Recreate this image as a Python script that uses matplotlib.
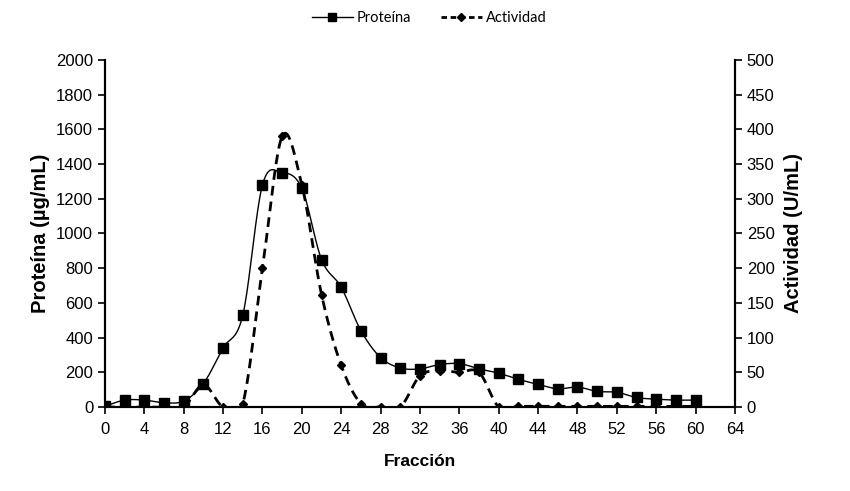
import matplotlib
matplotlib.use("Agg")
import matplotlib.pyplot as plt
from matplotlib.lines import Line2D
import numpy as np

plt.rcParams['font.family'] = ['Liberation Sans', 'DejaVu Sans']

fraccion = list(range(0, 62, 2))
proteina = [5, 40, 40, 25, 35, 135, 340, 530, 1280, 1350, 1260, 850, 690, 440, 285,
            225, 220, 245, 250, 220, 195, 160, 130, 105, 115, 90, 85, 55, 45, 40, 40]
actividad = [0, 0, 0, 0, 0, 32, 0, 5, 200, 390, 320, 162, 60, 5, 0,
             0, 45, 52, 50, 50, 0, 1, 1, 1, 1, 1, 1, 1, 1, 1, 1]


def smooth(x, y, n=20):
    # Catmull-Rom style smoothing, like Excel's smoothed line
    x = np.asarray(x, float)
    y = np.asarray(y, float)
    px = np.concatenate([[2 * x[0] - x[1]], x, [2 * x[-1] - x[-2]]])
    py = np.concatenate([[2 * y[0] - y[1]], y, [2 * y[-1] - y[-2]]])
    xs, ys = [], []
    t = np.linspace(0, 1, n, endpoint=False)
    for i in range(1, len(px) - 2):
        p0, p1, p2, p3 = [np.array([px[j], py[j]]) for j in range(i - 1, i + 3)]
        c1 = p1 + (p2 - p0) / 6.0
        c2 = p2 - (p3 - p1) / 6.0
        for tt in t:
            b = ((1 - tt) ** 3) * p1 + 3 * ((1 - tt) ** 2) * tt * c1 + 3 * (1 - tt) * tt ** 2 * c2 + tt ** 3 * p2
            xs.append(b[0])
            ys.append(b[1])
    xs.append(x[-1])
    ys.append(y[-1])
    return np.array(xs), np.array(ys)


fig = plt.figure(figsize=(8.5, 4.91), dpi=100)
ax = fig.add_axes([0.1235, 0.171, 0.7412, 0.707])
ax2 = ax.twinx()

sx, sy = smooth(fraccion, proteina)
ax.plot(sx, sy, color='black', lw=1.0, zorder=3)
ax.plot(fraccion, proteina, ls='none', marker='s', ms=6.5, color='black', zorder=4)

ax2.plot(*smooth(fraccion, actividad), color='black', lw=2.0, ls=(0, (3.5, 2.2)), zorder=3)
ax2.plot(fraccion, actividad, ls='none', marker='D', ms=4.5, color='black', zorder=4)

ax.set_xlim(0, 64)
ax.set_ylim(0, 2000)
ax2.set_ylim(0, 500)
ax.set_xticks(range(0, 65, 4))
ax.set_yticks(range(0, 2001, 200))
ax2.set_yticks(range(0, 501, 50))

for a in (ax, ax2):
    a.spines['top'].set_visible(False)
    a.tick_params(labelsize=12, width=1.2, length=5, direction='out', colors='black')
    a.spines['left'].set_linewidth(1.5)
    a.spines['right'].set_linewidth(1.5)
    a.spines['bottom'].set_linewidth(1.5)
ax.tick_params(axis='x', pad=6)

ax.set_xlabel('Fracción', fontsize=12.5, fontweight='bold', labelpad=12)
ax.set_ylabel('Proteína (µg/mL)', fontsize=14.5, fontweight='bold', labelpad=4)
ax2.set_ylabel('Actividad (U/mL)', fontsize=14.5, fontweight='bold', labelpad=7)

handles = [
    Line2D([], [], color='black', lw=1.0, marker='s', ms=5.5),
    Line2D([], [], color='black', lw=2.0, ls=(0, (2, 1.3)), marker='D', ms=4.5),
]
fig.legend(handles, ['Proteína', 'Actividad'], loc='center', bbox_to_anchor=(0.505, 0.963),
           ncol=2, frameon=False, prop={'family': 'Lato', 'size': 10.5},
           handlelength=2.8, columnspacing=2.0, handletextpad=0.3)

fig.savefig('out.png', dpi=100)
